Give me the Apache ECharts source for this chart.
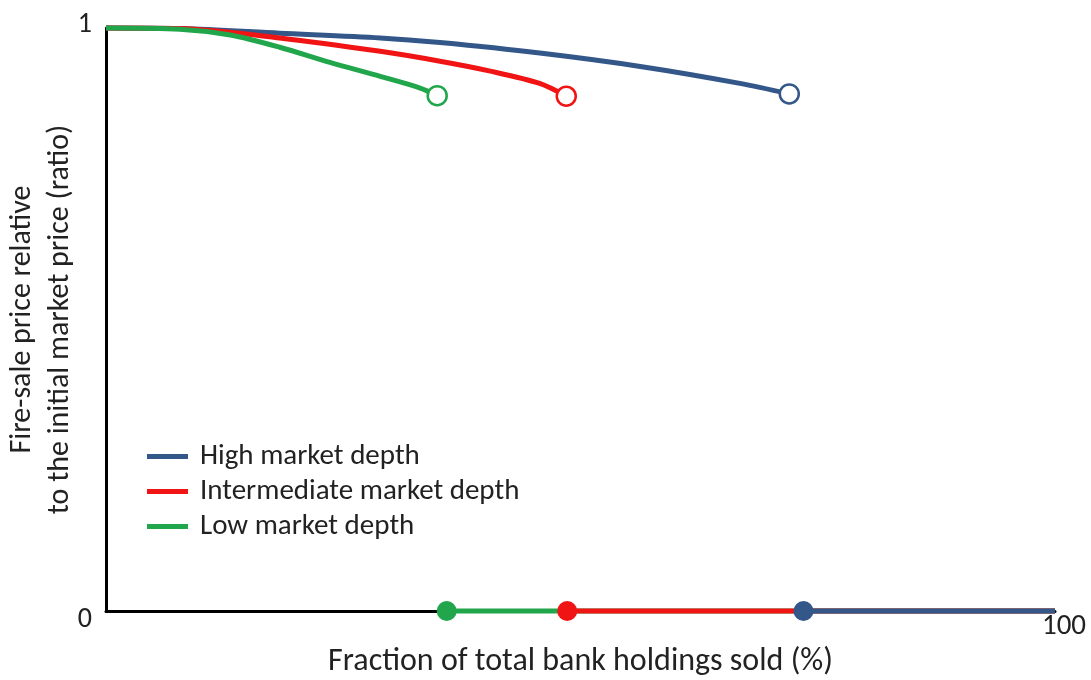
<!DOCTYPE html>
<html>
<head>
<meta charset="utf-8">
<script src="https://cdn.jsdelivr.net/npm/echarts@6/dist/echarts.min.js"></script>
<style>html,body{margin:0;padding:0;background:#fff}#c{width:1091px;height:680px}</style>
</head>
<body>
<div id="c"></div>
<script>
// ---- data ----
var seriesNames = ['High market depth', 'Intermediate market depth', 'Low market depth'];
var highCurve = [[0,1],[8,0.999],[18.3,0.991],[28.9,0.983],[35.2,0.975],[45.7,0.957],[56.3,0.934],[66.8,0.905],[72,0.887]];
var midCurve  = [[0,1],[7.8,0.999],[18.3,0.983],[28.9,0.960],[35.2,0.943],[40.5,0.926],[45.7,0.905],[48.5,0.883]];
var lowCurve  = [[0,1],[7.8,0.998],[13.1,0.988],[18.3,0.967],[23.6,0.941],[28.9,0.917],[33.1,0.897],[34.9,0.884]];
var highFlat = [[73.5,0],[100,0]];
var midFlat  = [[48.6,0],[100,0]];
var lowFlat  = [[35.9,0],[100,0]];
var xTicks = [0, 100];
var yTicks = [0, 1];

var colHigh = '#34578A', colMid = '#F01414', colLow = '#22A64C';
var FONT = 'Carlito, Lato, sans-serif';

function curve(name, data, color) {
  return { name: name, type: 'line', data: data, smooth: 0.3, showSymbol: false, clip: false,
    lineStyle: { color: color, width: 5 }, itemStyle: { color: color }, z: 3 };
}
function endCircle(name, data, color) {
  return { name: name, type: 'scatter', data: [data[data.length - 1]], symbol: 'circle', symbolSize: 19, clip: false,
    itemStyle: { color: '#fff', borderColor: color, borderWidth: 2.5, opacity: 1 }, z: 5 };
}
function flat(name, data, color, z) {
  return { name: name, type: 'line', data: data, clip: false, showSymbol: true,
    symbol: function (v, p) { return p.dataIndex === 0 ? 'circle' : 'none'; }, symbolSize: 20,
    lineStyle: { color: color, width: 5 }, itemStyle: { color: color, borderWidth: 0 }, z: z };
}

var chart = echarts.init(document.getElementById('c'), null, { renderer: 'canvas' });
chart.setOption({
  animation: false,
  backgroundColor: '#fff',
  textStyle: { fontFamily: FONT },
  grid: { left: 106, right: 36, top: 28, bottom: 69, containLabel: false, outerBoundsMode: 'none' },
  legend: {
    data: seriesNames, orient: 'vertical', left: 142, top: 437, icon: 'rect',
    itemWidth: 41, itemHeight: 5, itemGap: 6,
    textStyle: { fontFamily: FONT, fontSize: 29, color: '#222', lineHeight: 29, padding: [0, 0, 0, 7] },
    selectedMode: false
  },
  xAxis: {
    type: 'value', min: xTicks[0], max: xTicks[1], interval: 100,
    name: 'Fraction of total bank holdings sold (%)', nameLocation: 'middle', nameGap: 35,
    nameMoveOverlap: false,
    nameTextStyle: { fontFamily: FONT, fontSize: 32, color: '#222' },
    axisLine: { show: true, onZero: false, lineStyle: { color: '#000', width: 3 } },
    axisTick: { show: false }, splitLine: { show: false },
    axisLabel: {
      showMinLabel: true, showMaxLabel: true, margin: 1,
      formatter: function (v) { return v === 100 ? '{e|100}' : ''; },
      rich: { e: { fontFamily: FONT, fontSize: 29, color: '#222', padding: [0, 0, 0, 18] } }
    }
  },
  yAxis: {
    type: 'value', min: yTicks[0], max: yTicks[1], interval: 1,
    name: 'Fire-sale price relative\nto the initial market price (ratio)', nameLocation: 'middle', nameGap: 27,
    nameMoveOverlap: false,
    nameTextStyle: { fontFamily: FONT, fontSize: 30, color: '#222', lineHeight: 38 },
    axisLine: { show: true, lineStyle: { color: '#000', width: 3 } },
    axisTick: { show: false }, splitLine: { show: false },
    axisLabel: {
      margin: 14,
      formatter: function (v) { return v === 0 ? '{z|0}' : '{o|1}'; },
      rich: {
        z: { fontFamily: FONT, fontSize: 28, color: '#222', padding: [18, 0, 0, 0] },
        o: { fontFamily: FONT, fontSize: 28, color: '#222', padding: [0, 0, 6, 0] }
      }
    }
  },
  series: [
    curve(seriesNames[0], highCurve, colHigh),
    curve(seriesNames[1], midCurve, colMid),
    curve(seriesNames[2], lowCurve, colLow),
    flat(seriesNames[2], lowFlat, colLow, 6),
    flat(seriesNames[1], midFlat, colMid, 7),
    flat(seriesNames[0], highFlat, colHigh, 8),
    endCircle(seriesNames[0], highCurve, colHigh),
    endCircle(seriesNames[1], midCurve, colMid),
    endCircle(seriesNames[2], lowCurve, colLow)
  ]
});
</script>
</body>
</html>
